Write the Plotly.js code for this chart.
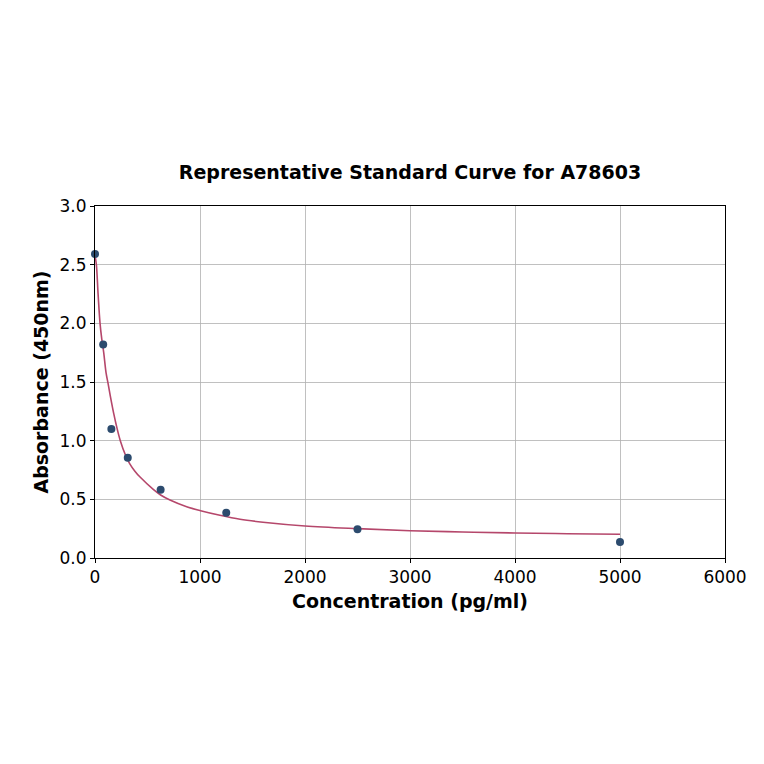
<!DOCTYPE html>
<html>
<head>
<meta charset="utf-8">
<script src="https://cdn.plot.ly/plotly-3.0.1.min.js"></script>
<style>html,body{margin:0;padding:0;background:#fff;}#chart{width:764px;height:764px;}</style>
</head>
<body>
<div id="chart"></div>
<script>
var concentration = [0, 78, 156, 312, 625, 1250, 2500, 5000];
var absorbance = [2.59, 1.82, 1.10, 0.855, 0.582, 0.386, 0.245, 0.136];

var curveX = [0, 13, 30, 48, 64, 83, 105, 124, 146, 178, 210, 241, 289, 330, 380, 429, 555, 625, 714, 873, 1006, 1190, 1381, 1600, 2000, 2500, 3000, 3500, 4000, 4500, 5000];
var curveY = [2.58, 2.50, 2.24, 2.00, 1.87, 1.75, 1.58, 1.49, 1.38, 1.233, 1.105, 1.0, 0.88, 0.805, 0.74, 0.69, 0.585, 0.537, 0.494, 0.437, 0.403, 0.364, 0.33, 0.305, 0.273, 0.25, 0.232, 0.222, 0.213, 0.207, 0.202];

var xTicks = [0, 1000, 2000, 3000, 4000, 5000, 6000];
var yTicks = [0.0, 0.5, 1.0, 1.5, 2.0, 2.5, 3.0];
var yTickText = ['0.0', '0.5', '1.0', '1.5', '2.0', '2.5', '3.0'];

var font = 'DejaVu Sans, sans-serif';

var traces = [
  {
    x: curveX, y: curveY, mode: 'lines', type: 'scatter',
    line: {color: '#b5476b', width: 1.6, shape: 'spline', smoothing: 1},
    hoverinfo: 'skip', showlegend: false, cliponaxis: false
  },
  {
    x: concentration, y: absorbance, mode: 'markers', type: 'scatter',
    marker: {color: '#2c4b6e', size: 8}, showlegend: false, cliponaxis: false
  }
];

var axisCommon = {
  showgrid: true, gridcolor: '#b0b0b0', gridwidth: 0.8,
  showline: true, linecolor: '#000', linewidth: 1, mirror: true,
  ticks: 'outside', ticklen: 4, tickwidth: 1, tickcolor: '#000',
  zeroline: false,
  tickfont: {family: font, size: 17, color: '#000'}
};

var layout = {
  width: 764, height: 764,
  margin: {l: 95, r: 39, t: 206, b: 206},
  paper_bgcolor: '#fff', plot_bgcolor: '#fff',
  title: {text: '<b>Representative Standard Curve for A78603</b>', font: {family: font, size: 19, color: '#000'}, x: (95 + 725) / 2 / 764, xanchor: 'center', y: 1 - 172/764, yanchor: 'middle'},
  xaxis: Object.assign({}, axisCommon, {
    range: [0, 6000], tickvals: xTicks, ticktext: xTicks.map(String),
    title: {text: '<b>Concentration (pg/ml)</b>', font: {family: font, size: 19, color: '#000'}, standoff: 8}
  }),
  yaxis: Object.assign({}, axisCommon, {
    range: [0, 3.0], tickvals: yTicks, ticktext: yTickText,
    title: {text: '<b>Absorbance (450nm)</b>', font: {family: font, size: 19, color: '#000'}, standoff: 5}
  })
};

Plotly.newPlot('chart', traces, layout, {displayModeBar: false, staticPlot: true});
</script>
</body>
</html>
